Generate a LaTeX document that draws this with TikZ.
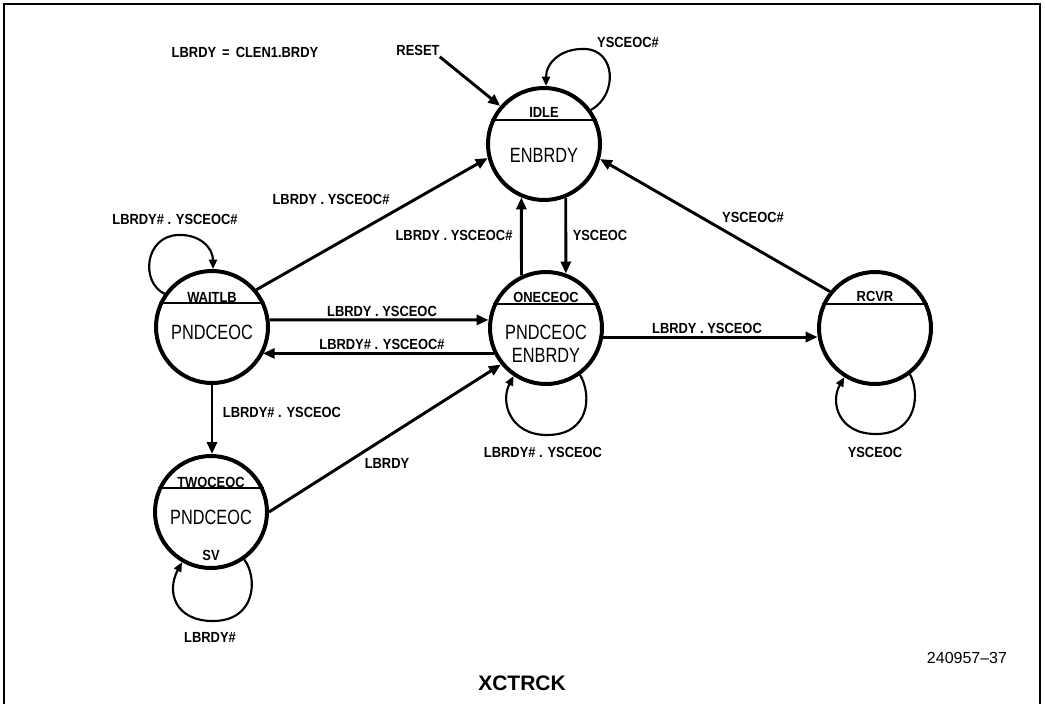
\documentclass[tikz,border=0pt]{standalone}
\usepackage{fontspec}
\setmainfont{Liberation Sans}[FakeStretch=0.88]
\newfontfamily\bigfam{Liberation Sans}[FakeStretch=0.79]
\newfontfamily\plainfam{Liberation Sans}
\usetikzlibrary{arrows.meta}
\begin{document}
\begin{tikzpicture}[x=0.75pt,y=-0.75pt,
  state/.style={circle,draw,line width=3pt,minimum size=84pt,inner sep=0pt},
  divline/.style={line width=1.6pt},
  arr/.style={line width=2.2pt,-{Triangle[length=9pt,width=7.5pt]}},
  larr/.style={line width=1.6pt,-{Triangle[length=7pt,width=6pt]}},
  lbl/.style={font=\bfseries\fontsize{11}{13}\selectfont,inner sep=1pt},
  sname/.style={font=\bfseries\fontsize{11}{13}\selectfont,inner sep=0pt},
  sbig/.style={font=\bigfam\fontsize{15.5}{18}\selectfont,inner sep=0pt},
  framel/.style={line width=1.5pt}]
\useasboundingbox (0,0) rectangle (1045,704);
\draw[framel] (4,704) -- (4,4) -- (1040,4) -- (1040,704);

% states
\node[state] (idle) at (544,144) {};
\node[state] (wait) at (212,327) {};
\node[state] (one)  at (546,328) {};
\node[state] (rcvr) at (875,328) {};
\node[state] (two)  at (211,512) {};

\foreach \s in {idle,wait,one,rcvr,two}{\draw[divline] (\s.156) -- (\s.24);}

\node[sname] (tidle) at (544,112) {IDLE};
\node[sbig]  (bidle) at (544,155) {ENBRDY};
\node[sname] (twait) at (212,297) {WAITLB};
\node[sbig]  (bwait) at (212,332) {PNDCEOC};
\node[sname] (tone)  at (546,297) {ONECEOC};
\node[sbig]  (bone)  at (546,332) {PNDCEOC};
\node[sbig]  (cone)  at (546,355) {ENBRDY};
\node[sname] (trcvr) at (875,296) {RCVR};
\node[sname] (ttwo)  at (211,482) {TWOCEOC};
\node[sbig]  (btwo)  at (211,517) {PNDCEOC};
\node[sname] (ctwo)  at (211,555) {SV};

% header texts
\node[lbl] (eq) at (245,52) {LBRDY\ \,=\ \,CLEN1.BRDY};
\node[lbl] (reset) at (418,50) {RESET};

% straight transitions
\draw[arr] ([xshift=-1pt]reset.south east) -- (idle.139);
\draw[arr] (wait.40) -- (idle.194);
\draw[arr] (rcvr.141) -- (idle.345);
\draw[arr] (wait.7) -- (one.172);
\draw[arr] (one.206) -- (wait.331 |- one.206);
\draw[arr] (wait.south) -- (wait.south |- two.north);
\draw[arr] (two.0) -- (one.219);
\draw[arr] (one.351) -- (rcvr.189);
\draw[arr] (one.115) -- (idle.247);
\draw[arr] (idle.292) -- (one.70);

% self loops
\draw[larr] (idle.36) .. controls (618,95) and (616,50) .. (585,49)
  .. controls (562,48) and (546,62) .. (idle.88);
\draw[larr] (wait.145) .. controls (140,282) and (145,236) .. (178,235)
  .. controls (200,234) and (213,248) .. (wait.89);
\draw[larr] (one.306) .. controls (592,395) and (590,435) .. (547,435)
  .. controls (510,435) and (500,402) .. (one.236);
\draw[larr] (rcvr.307) .. controls (920,392) and (918,434) .. (876,434)
  .. controls (838,434) and (830,402) .. (rcvr.238);
\draw[larr] (two.305) .. controls (258,578) and (256,621) .. (213,621)
  .. controls (175,621) and (166,592) .. (two.240);

% transition labels
\node[lbl] (l1) at (628,42) {YSCEOC\#};
\node[lbl] (l2) at (175,219) {LBRDY\# . YSCEOC\#};
\node[lbl] (l3) at (331,199) {LBRDY . YSCEOC\#};
\node[lbl] (l4) at (454,235) {LBRDY . YSCEOC\#};
\node[lbl] (l5) at (600,235) {YSCEOC};
\node[lbl] (l6) at (753,217) {YSCEOC\#};
\node[lbl] (l7) at (382,311) {LBRDY . YSCEOC};
\node[lbl] (l8) at (382,344) {LBRDY\# . YSCEOC\#};
\node[lbl] (l9) at (282,412) {LBRDY\# . YSCEOC};
\node[lbl] (l10) at (387,463) {LBRDY};
\node[lbl] (l11) at (543,452) {LBRDY\# . YSCEOC};
\node[lbl] (l12) at (707,328) {LBRDY . YSCEOC};
\node[lbl] (l13) at (875,452) {YSCEOC};
\node[lbl] (l14) at (210,637) {LBRDY\#};

% footer
\node[font=\plainfam\fontsize{12}{14}\selectfont,inner sep=0pt] (fig) at (967,658) {240957–37};
\node[font=\plainfam\bfseries\fontsize{15.75}{18}\selectfont,inner sep=0pt] (title) at (522,683) {XCTRCK};
\end{tikzpicture}
\end{document}
